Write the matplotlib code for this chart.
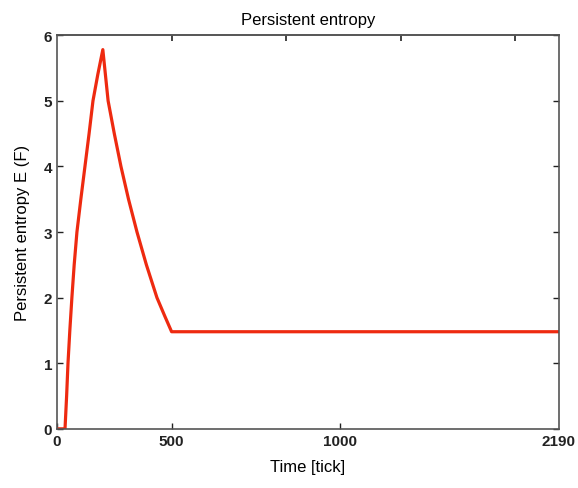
import matplotlib.pyplot as plt

# curve
time = [0, 35, 42, 48, 56, 65, 75, 87, 104, 122, 140, 157, 178, 200,
        223, 250, 279, 312, 349, 390, 436, 470, 500, 2190]
entropy = [0, 0, 0.5, 1.0, 1.5, 2.0, 2.5, 3.0, 3.5, 4.0, 4.5, 5.0, 5.4, 5.78,
           5.0, 4.5, 4.0, 3.5, 3.0, 2.5, 2.0, 1.72, 1.48, 1.48]

xtick_pos = [0, 500, 1235, 2190]
xtick_lab = ["0", "500", "1000", "2190"]
top_ticks = [500, 1000, 1500, 2000]
yticks = [0, 1, 2, 3, 4, 5, 6]

plt.rcParams['font.family'] = ['Liberation Sans', 'DejaVu Sans']

fig = plt.figure(figsize=(5.78, 4.89), dpi=100)
ax = fig.add_axes([0.0986, 0.121, 0.8685, 0.805])

ax.plot(time, entropy, color='#ee2a10', lw=2.3)

ax.set_xlim(0, 2190)
ax.set_ylim(0, 6)
ax.set_xticks(xtick_pos)
ax.set_xticklabels(xtick_lab)
ax.set_yticks(yticks)
ax.tick_params(direction='in', length=4, width=1, labelsize=11, colors='#222222',
               right=True)
for lab in ax.get_xticklabels() + ax.get_yticklabels():
    lab.set_fontweight('bold')
ax.get_xticklines()[-2].set_visible(False)

top = ax.secondary_xaxis('top')
top.set_xticks(top_ticks)
top.set_xticklabels([])
top.tick_params(direction='in', length=4, width=1.2, colors='#222222')

for s in list(ax.spines.values()) + list(top.spines.values()):
    s.set_color('#555555')
    s.set_linewidth(1.2)

ax.set_title("Persistent entropy", fontsize=12, pad=8)
ax.set_xlabel("Time [tick]", fontsize=12, labelpad=8)
ax.set_ylabel("Persistent entropy E (F)", fontsize=12, labelpad=10)

fig.savefig("out.png", dpi=100)
